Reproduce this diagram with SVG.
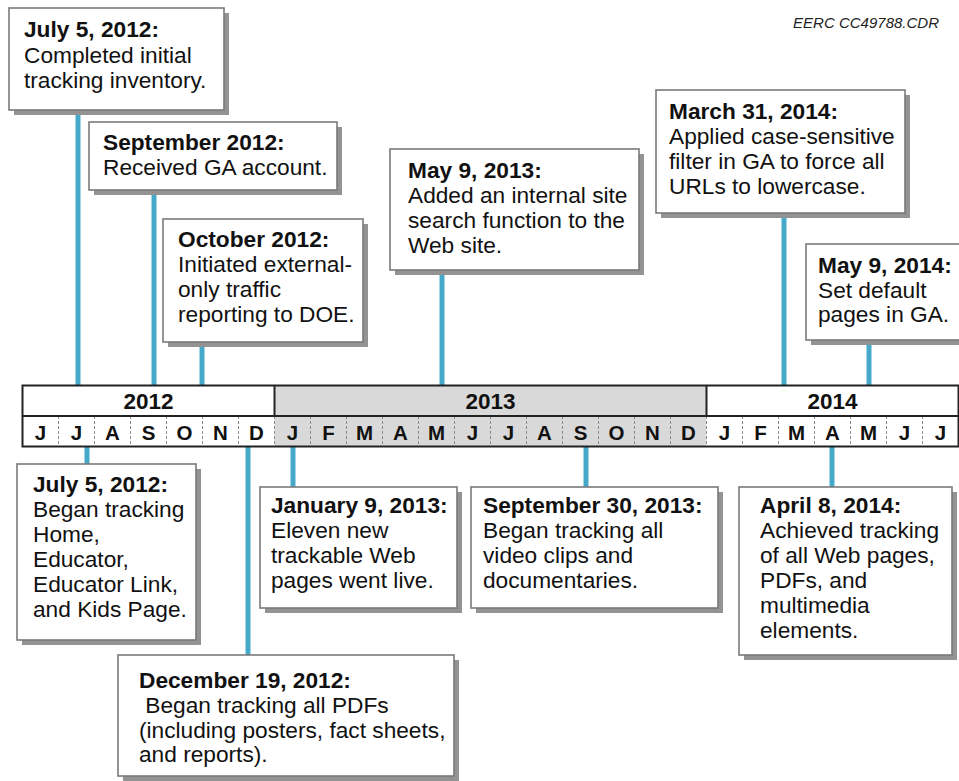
<svg xmlns="http://www.w3.org/2000/svg" width="959" height="781" viewBox="0 0 959 781">
<style>
.sh{fill:#939393}
.bx{fill:#fff;stroke:#7a7a7a;stroke-width:1.6}
.t{font-family:"Liberation Sans",Arial,sans-serif;font-size:22.7px;fill:#111}
.b{font-weight:bold}
.c{stroke:#47a9c9;stroke-width:5;fill:none}
.yr{font-family:"Liberation Sans",Arial,sans-serif;font-size:22.5px;font-weight:bold;fill:#111;text-anchor:middle}
.mo{font-family:"Liberation Sans",Arial,sans-serif;font-size:20.5px;font-weight:bold;fill:#111;text-anchor:middle}
.dv{stroke:#8a8a8a;stroke-width:1;stroke-dasharray:3,2}
</style>
<rect width="959" height="781" fill="#fff"/>
<text x="939" y="28" text-anchor="end" style="font-family:'Liberation Sans',Arial,sans-serif;font-size:15px;font-style:italic;fill:#222">EERC CC49788.CDR</text>

<g id="connectors">
<line class="c" x1="78" y1="110" x2="78" y2="386"/>
<line class="c" x1="154" y1="190" x2="154" y2="386"/>
<line class="c" x1="202" y1="342" x2="202" y2="386"/>
<line class="c" x1="442" y1="270" x2="442" y2="386"/>
<line class="c" x1="784" y1="213" x2="784" y2="386"/>
<line class="c" x1="869" y1="340" x2="869" y2="386"/>
<line class="c" x1="87" y1="446" x2="87" y2="464"/>
<line class="c" x1="248" y1="446" x2="248" y2="655"/>
<line class="c" x1="293" y1="446" x2="293" y2="487"/>
<line class="c" x1="586" y1="446" x2="586" y2="487"/>
<line class="c" x1="832" y1="446" x2="832" y2="487"/>
</g>

<g id="timeline">
<rect x="22.5" y="385.5" width="252" height="61" fill="#fff"/>
<rect x="274.5" y="385.5" width="432" height="61" fill="#d9d9d9"/>
<rect x="706.5" y="385.5" width="252" height="61" fill="#fff"/>
<g class="dv">
<line x1="58.5" y1="416" x2="58.5" y2="446"/><line x1="94.5" y1="416" x2="94.5" y2="446"/><line x1="130.5" y1="416" x2="130.5" y2="446"/><line x1="166.5" y1="416" x2="166.5" y2="446"/><line x1="202.5" y1="416" x2="202.5" y2="446"/><line x1="238.5" y1="416" x2="238.5" y2="446"/><line x1="274.5" y1="416" x2="274.5" y2="446"/>
<line x1="310.5" y1="416" x2="310.5" y2="446"/><line x1="346.5" y1="416" x2="346.5" y2="446"/><line x1="382.5" y1="416" x2="382.5" y2="446"/><line x1="418.5" y1="416" x2="418.5" y2="446"/><line x1="454.5" y1="416" x2="454.5" y2="446"/><line x1="490.5" y1="416" x2="490.5" y2="446"/><line x1="526.5" y1="416" x2="526.5" y2="446"/><line x1="562.5" y1="416" x2="562.5" y2="446"/><line x1="598.5" y1="416" x2="598.5" y2="446"/><line x1="634.5" y1="416" x2="634.5" y2="446"/><line x1="670.5" y1="416" x2="670.5" y2="446"/><line x1="706.5" y1="416" x2="706.5" y2="446"/>
<line x1="742.5" y1="416" x2="742.5" y2="446"/><line x1="778.5" y1="416" x2="778.5" y2="446"/><line x1="814.5" y1="416" x2="814.5" y2="446"/><line x1="850.5" y1="416" x2="850.5" y2="446"/><line x1="886.5" y1="416" x2="886.5" y2="446"/><line x1="922.5" y1="416" x2="922.5" y2="446"/>
</g>
<line x1="274.5" y1="385.5" x2="274.5" y2="416" stroke="#222" stroke-width="2"/>
<line x1="706.5" y1="385.5" x2="706.5" y2="416" stroke="#222" stroke-width="2"/>
<line x1="22.5" y1="416" x2="958.5" y2="416" stroke="#222" stroke-width="2"/>
<rect x="22.5" y="385.5" width="936" height="61" fill="none" stroke="#222" stroke-width="2"/>
<text class="yr" x="148.5" y="409">2012</text>
<text class="yr" x="490.5" y="409">2013</text>
<text class="yr" x="832.5" y="409">2014</text>
<text class="mo" x="40.5" y="440">J</text><text class="mo" x="76.5" y="440">J</text><text class="mo" x="112.5" y="440">A</text><text class="mo" x="148.5" y="440">S</text><text class="mo" x="184.5" y="440">O</text><text class="mo" x="220.5" y="440">N</text><text class="mo" x="256.5" y="440">D</text>
<text class="mo" x="292.5" y="440">J</text><text class="mo" x="328.5" y="440">F</text><text class="mo" x="364.5" y="440">M</text><text class="mo" x="400.5" y="440">A</text><text class="mo" x="436.5" y="440">M</text><text class="mo" x="472.5" y="440">J</text><text class="mo" x="508.5" y="440">J</text><text class="mo" x="544.5" y="440">A</text><text class="mo" x="580.5" y="440">S</text><text class="mo" x="616.5" y="440">O</text><text class="mo" x="652.5" y="440">N</text><text class="mo" x="688.5" y="440">D</text>
<text class="mo" x="724.5" y="440">J</text><text class="mo" x="760.5" y="440">F</text><text class="mo" x="796.5" y="440">M</text><text class="mo" x="832.5" y="440">A</text><text class="mo" x="868.5" y="440">M</text><text class="mo" x="904.5" y="440">J</text><text class="mo" x="940.5" y="440">J</text>
</g>

<g id="n-jul2012-top">
<rect class="sh" x="14" y="13" width="215" height="102"/>
<rect class="bx" x="9" y="8" width="215" height="102"/>
<text class="t" x="24"><tspan class="b" x="24" y="37">July 5, 2012:</tspan><tspan x="24" y="63">Completed initial</tspan><tspan x="24" y="88">tracking inventory.</tspan></text>
</g>

<g id="n-sep2012">
<rect class="sh" x="94" y="127" width="248" height="68"/>
<rect class="bx" x="89" y="122" width="248" height="68"/>
<text class="t" x="103"><tspan class="b" x="103" y="150">September 2012:</tspan><tspan x="103" y="175">Received GA account.</tspan></text>
</g>

<g id="n-oct2012">
<rect class="sh" x="168" y="224" width="200" height="123"/>
<rect class="bx" x="163" y="219" width="200" height="123"/>
<text class="t" x="178"><tspan class="b" x="178" y="247">October 2012:</tspan><tspan x="178" y="272">Initiated external-</tspan><tspan x="178" y="297">only traffic</tspan><tspan x="178" y="322">reporting to DOE.</tspan></text>
</g>

<g id="n-may2013">
<rect class="sh" x="395" y="154" width="249" height="121"/>
<rect class="bx" x="390" y="149" width="249" height="121"/>
<text class="t" x="408"><tspan class="b" x="408" y="178">May 9, 2013:</tspan><tspan x="408" y="203">Added an internal site</tspan><tspan x="408" y="228">search function to the</tspan><tspan x="408" y="253">Web site.</tspan></text>
</g>

<g id="n-mar2014">
<rect class="sh" x="661" y="95" width="249" height="123"/>
<rect class="bx" x="656" y="90" width="249" height="123"/>
<text class="t" x="669"><tspan class="b" x="669" y="119">March 31, 2014:</tspan><tspan x="669" y="144">Applied case-sensitive</tspan><tspan x="669" y="169">filter in GA to force all</tspan><tspan x="669" y="194">URLs to lowercase.</tspan></text>
</g>

<g id="n-may2014">
<rect class="sh" x="811" y="249" width="160" height="96"/>
<rect class="bx" x="806" y="244" width="160" height="96"/>
<text class="t" x="818"><tspan class="b" x="818" y="273">May 9, 2014:</tspan><tspan x="818" y="298">Set default</tspan><tspan x="818" y="322">pages in GA.</tspan></text>
</g>

<g id="n-jul2012-bottom">
<rect class="sh" x="22" y="469" width="179" height="176"/>
<rect class="bx" x="17" y="464" width="179" height="176"/>
<text class="t" x="33"><tspan class="b" x="33" y="492">July 5, 2012:</tspan><tspan x="33" y="517">Began tracking</tspan><tspan x="33" y="542">Home,</tspan><tspan x="33" y="567">Educator,</tspan><tspan x="33" y="592">Educator Link,</tspan><tspan x="33" y="617">and Kids Page.</tspan></text>
</g>

<g id="n-dec2012">
<rect class="sh" x="123" y="660" width="336" height="121"/>
<rect class="bx" x="118" y="655" width="336" height="121"/>
<text class="t" x="139" xml:space="preserve"><tspan class="b" x="139" y="688">December 19, 2012:</tspan><tspan x="139" y="713"> Began tracking all PDFs</tspan><tspan x="139" y="738">(including posters, fact sheets,</tspan><tspan x="139" y="762">and reports).</tspan></text>
</g>

<g id="n-jan2013">
<rect class="sh" x="265" y="492" width="197" height="121"/>
<rect class="bx" x="260" y="487" width="197" height="121"/>
<text class="t" x="271"><tspan class="b" x="271" y="513">January 9, 2013:</tspan><tspan x="271" y="538">Eleven new</tspan><tspan x="271" y="563">trackable Web</tspan><tspan x="271" y="588">pages went live.</tspan></text>
</g>

<g id="n-sep2013">
<rect class="sh" x="476" y="492" width="247" height="121"/>
<rect class="bx" x="471" y="487" width="247" height="121"/>
<text class="t" x="483"><tspan class="b" x="483" y="513">September 30, 2013:</tspan><tspan x="483" y="538">Began tracking all</tspan><tspan x="483" y="563">video clips and</tspan><tspan x="483" y="588">documentaries.</tspan></text>
</g>

<g id="n-apr2014">
<rect class="sh" x="744" y="492" width="213" height="168"/>
<rect class="bx" x="739" y="487" width="213" height="168"/>
<text class="t" x="760"><tspan class="b" x="760" y="513">April 8, 2014:</tspan><tspan x="760" y="538">Achieved tracking</tspan><tspan x="760" y="563">of all Web pages,</tspan><tspan x="760" y="588">PDFs, and</tspan><tspan x="760" y="613">multimedia</tspan><tspan x="760" y="638">elements.</tspan></text>
</g>
</svg>
